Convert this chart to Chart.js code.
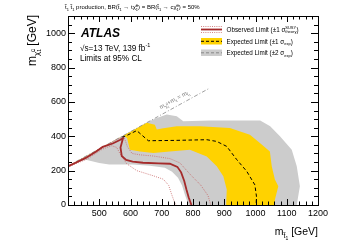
<!DOCTYPE html>
<html>
<head>
<meta charset="utf-8">
<script src="https://cdn.jsdelivr.net/npm/chart.js@4/dist/chart.umd.min.js"></script>
<style>
  html, body { margin: 0; padding: 0; background: #fff; }
  #wrap { width: 342px; height: 245px; position: relative; }
</style>
</head>
<body>
<div id="wrap"><canvas id="chart"></canvas></div>
<script>
// values are [m(stop), m(neutralino)] in GeV
const kinLine = [[400, 227], [850, 677]];

// +2 sigma expected (outer edge of grey band), closed along the axes
const grey2Up = [
    [400, 0], [400, 227], [662, 489], [684, 506], [716, 526], [748, 516], [769, 487],
    [854, 492], [918, 492], [1015, 492], [1047, 458], [1079, 399], [1116, 322],
    [1132, 225], [1142, 109], [1132, 0]
];
// +1 sigma expected (outer edge of yellow band)
const yellow1Up = [
    [400, 0], [400, 227], [652, 479], [678, 467], [684, 440], [700, 445], [748, 458],
    [822, 458], [918, 448], [982, 409], [1014, 361], [1046, 312], [1052, 225],
    [1062, 148], [1073, 109], [1062, 31], [1062, 0]
];
// -1 sigma expected (inner edge of yellow band)
const yellow1Down = [
    [400, 0], [400, 227], [576, 403], [589, 390], [598, 322], [630, 312], [673, 303],
    [726, 312], [790, 322], [844, 283], [876, 225], [897, 167], [908, 90], [906, 0]
];
// -2 sigma expected (inner edge of grey band)
const grey2Down = [
    [400, 0], [400, 223], [436, 254], [457, 264], [500, 245], [532, 235], [607, 235],
    [662, 229], [710, 217], [733, 194], [752, 159], [765, 113], [774, 60], [786, 0]
];

const expected = [
    [572, 395], [583, 400], [620, 433], [657, 374], [742, 376], [844, 380], [876, 370],
    [908, 341], [940, 264], [972, 196], [998, 117], [1003, 51], [1002, 0]
];
const observed = [
    [400, 225], [425, 246], [457, 274], [489, 310], [511, 338], [543, 358], [566, 378],
    [576, 388], [568, 335], [572, 285], [586, 262], [607, 253], [640, 246], [690, 242],
    [726, 240], [750, 222], [762, 190], [772, 140], [779, 90], [786, 45], [795, 0]
];
const obsTheoryUp = [
    [400, 228], [460, 282], [520, 345], [560, 385], [580, 392], [590, 340], [605, 300],
    [630, 292], [673, 285], [726, 270], [758, 245], [790, 180], [825, 115], [848, 55], [857, 0]
];
const obsTheoryDown = [
    [400, 222], [460, 266], [510, 325], [540, 345], [556, 335], [566, 300], [588, 240],
    [620, 200], [673, 170], [705, 150], [722, 115], [732, 60], [740, 20], [746, 0]
];

const FONT = '"Liberation Sans", Arial, Helvetica, sans-serif';
const GREY = '#cccccc';
const YELLOW = '#ffd200';
const RED = '#a52a2a';
const PINK = '#c86464';

Chart.defaults.font.family = FONT;
Chart.defaults.color = '#000';

function pts(arr) {
    return arr.map(([x, y]) => ({ x, y }));
}

// filled contour region
function band(arr, color, order) {
    return {
        data: pts(arr), showLine: true, fill: 'shape', backgroundColor: color,
        borderWidth: 0, pointRadius: 0, order
    };
}

// contour line
function curve(arr, color, width, dash, order) {
    return {
        data: pts(arr), showLine: true, fill: false, borderColor: color,
        borderWidth: width, borderDash: dash, pointRadius: 0, order
    };
}

// draw text made of pieces (sub/superscripts)
function partWidth(ctx, p) {
    ctx.font = (p.f || '') + ' ' + p.s + 'px ' + FONT;
    if (p.sup !== undefined) {
        return Math.max(ctx.measureText(p.sup).width, ctx.measureText(p.sub).width);
    }
    return ctx.measureText(p.t).width;
}

function richText(ctx, parts, x, y, align) {
    const ws = parts.map(p => partWidth(ctx, p));
    const total = ws.reduce((a, b) => a + b, 0);
    let cx = align === 'right' ? x - total : align === 'center' ? x - total / 2 : x;
    ctx.textAlign = 'left';
    ctx.textBaseline = 'alphabetic';
    parts.forEach((p, i) => {
        ctx.font = (p.f || '') + ' ' + p.s + 'px ' + FONT;
        if (p.sup !== undefined) {
            ctx.fillText(p.sup, cx, y + (p.upDy !== undefined ? p.upDy : -3));
            ctx.fillText(p.sub, cx, y + (p.dnDy !== undefined ? p.dnDy : 2));
        } else {
            ctx.fillText(p.t, cx, y + (p.dy || 0));
        }
        cx += ws[i];
    });
}

const decorPlugin = {
    id: 'decor',
    afterDraw(chart) {
        const { ctx, chartArea: a, scales: { x, y } } = chart;
        ctx.save();

        // ticks on all four sides, pointing inwards
        ctx.strokeStyle = '#000';
        ctx.lineWidth = 1;
        ctx.beginPath();
        for (let v = 400; v <= 1200; v += 20) {
            const px = Math.round(x.getPixelForValue(v)) + 0.5;
            const len = v % 100 === 0 ? 6 : 3.5;
            ctx.moveTo(px, a.bottom); ctx.lineTo(px, a.bottom - len);
            ctx.moveTo(px, a.top); ctx.lineTo(px, a.top + len);
        }
        for (let v = 0; v <= 1100; v += 50) {
            const py = Math.round(y.getPixelForValue(v)) + 0.5;
            const len = v % 200 === 0 ? 7 : 4;
            ctx.moveTo(a.left, py); ctx.lineTo(a.left + len, py);
            ctx.moveTo(a.right, py); ctx.lineTo(a.right - len, py);
        }
        ctx.stroke();
        ctx.strokeRect(Math.round(a.left) + 0.5, Math.round(a.top) + 0.5,
            Math.round(a.right - a.left), Math.round(a.bottom - a.top));

        ctx.fillStyle = '#000';
        // axis titles
        richText(ctx, [
            { t: 'm', s: 10.5 }, { t: 't\u0303', s: 7, dy: 3 }, { t: '1', s: 5, dy: 5 },
            { t: ' [GeV]', s: 10.5 }
        ], a.right, 235, 'right');

        ctx.save();
        ctx.translate(36, a.top - 1);
        ctx.rotate(-Math.PI / 2);
        richText(ctx, [
            { t: 'm', s: 12 }, { t: '\u03c7\u0303', s: 8, dy: 3 },
            { sup: '0', sub: '1', s: 5, upDy: -1, dnDy: 5 }, { t: ' [GeV]', s: 12 }
        ], 0, 0, 'right');
        ctx.restore();

        // process title above the frame
        richText(ctx, [
            { t: 't\u0303', s: 6 }, { t: '1', s: 4, dy: 1.5 }, { t: ' t\u0303', s: 6 }, { t: '1', s: 4, dy: 1.5 },
            { t: ' production, BR(t\u0303', s: 6 }, { t: '1', s: 4, dy: 1.5 },
            { t: ' \u2192 t\u03c7\u0303', s: 6 }, { sup: '0', sub: '1', s: 4, upDy: -2.5, dnDy: 1.5 },
            { t: ') = BR(t\u0303', s: 6 }, { t: '1', s: 4, dy: 1.5 },
            { t: ' \u2192 c\u03c7\u0303', s: 6 }, { sup: '0', sub: '1', s: 4, upDy: -2.5, dnDy: 1.5 },
            { t: ') = 50%', s: 6 }
        ], a.left - 3, 9, 'left');

        // ATLAS label block
        richText(ctx, [{ t: 'ATLAS', s: 12, f: 'italic bold' }], 81, 37, 'left');
        richText(ctx, [
            { t: '\u221as=13 TeV, 139 fb', s: 8.2 }, { t: '-1', s: 5.5, dy: -3.5 }
        ], 80, 50.5, 'left');
        richText(ctx, [{ t: 'Limits at 95% CL', s: 8.2 }], 80, 60.5, 'left');

        // legend
        const lx0 = 201, lx1 = 222, tx = 226.5;
        ctx.lineWidth = 0.8;
        ctx.strokeStyle = PINK;
        ctx.setLineDash([1, 1.2]);
        ctx.beginPath();
        ctx.moveTo(lx0, 26.5); ctx.lineTo(lx1, 26.5);
        ctx.moveTo(lx0, 32.5); ctx.lineTo(lx1, 32.5);
        ctx.stroke();
        ctx.setLineDash([]);
        ctx.strokeStyle = RED;
        ctx.lineWidth = 1.8;
        ctx.beginPath(); ctx.moveTo(lx0, 29.5); ctx.lineTo(lx1, 29.5); ctx.stroke();

        ctx.fillStyle = YELLOW;
        ctx.fillRect(lx0, 38, lx1 - lx0, 6.5);
        ctx.fillStyle = GREY;
        ctx.fillRect(lx0, 49.5, lx1 - lx0, 6.5);
        ctx.lineWidth = 1;
        ctx.setLineDash([3, 2]);
        ctx.strokeStyle = '#000';
        ctx.beginPath(); ctx.moveTo(lx0, 41.3); ctx.lineTo(lx1, 41.3); ctx.stroke();
        ctx.strokeStyle = '#888';
        ctx.beginPath(); ctx.moveTo(lx0, 52.8); ctx.lineTo(lx1, 52.8); ctx.stroke();
        ctx.setLineDash([]);

        ctx.fillStyle = '#000';
        richText(ctx, [
            { t: 'Observed Limit (\u00b11 \u03c3', s: 6.3 },
            { sup: 'SUSY', sub: 'theory', s: 4, upDy: -3.2, dnDy: 1.6 }, { t: ')', s: 6.3 }
        ], tx, 31.8, 'left');
        richText(ctx, [
            { t: 'Expected Limit (\u00b11 \u03c3', s: 6.3 }, { t: 'exp', s: 4, dy: 1.6 }, { t: ')', s: 6.3 }
        ], tx, 43.5, 'left');
        richText(ctx, [
            { t: 'Expected Limit (\u00b12 \u03c3', s: 6.3 }, { t: 'exp', s: 4, dy: 1.6 }, { t: ')', s: 6.3 }
        ], tx, 55, 'left');

        // label along the kinematic line
        const p0x = x.getPixelForValue(kinLine[0][0]), p0y = y.getPixelForValue(kinLine[0][1]);
        const p1x = x.getPixelForValue(kinLine[1][0]), p1y = y.getPixelForValue(kinLine[1][1]);
        const ang = Math.atan2(p1y - p0y, p1x - p0x);
        const cx = p0x + (p1x - p0x) * 0.78, cy = p0y + (p1y - p0y) * 0.78;
        ctx.save();
        ctx.translate(cx + 3 * Math.sin(ang), cy - 3 * Math.cos(ang));
        ctx.rotate(ang);
        ctx.fillStyle = '#777';
        richText(ctx, [
            { t: 'm', s: 6 }, { t: '\u03c7\u0303', s: 4.2, dy: 1.5 },
            { sup: '0', sub: '1', s: 3, upDy: -1, dnDy: 2.5 },
            { t: '+m', s: 6 }, { t: 't', s: 4.2, dy: 1.5 },
            { t: ' = m', s: 6 }, { t: 't\u0303', s: 4.2, dy: 1.5 }, { t: '1', s: 3, dy: 2.5 }
        ], 0, -2, 'center');
        ctx.restore();

        ctx.restore();
    }
};

new Chart(document.getElementById('chart'), {
    type: 'scatter',
    data: {
        datasets: [
            curve(observed, RED, 1.8, [], 1),
            curve(obsTheoryUp, PINK, 0.8, [1, 1.2], 2),
            curve(obsTheoryDown, PINK, 0.8, [1, 1.2], 3),
            curve(expected, '#000', 1, [3.5, 2.5], 4),
            curve(kinLine, '#888', 0.8, [4, 2, 1, 2], 5),
            band(grey2Down, '#ffffff', 6),
            band(yellow1Down, GREY, 7),
            band(yellow1Up, YELLOW, 8),
            band(grey2Up, GREY, 9)
        ]
    },
    options: {
        responsive: true,
        maintainAspectRatio: false,
        animation: false,
        events: [],
        layout: { padding: { top: 16, right: 24, left: 0, bottom: 0 } },
        plugins: { legend: { display: false }, tooltip: { enabled: false } },
        elements: { line: { tension: 0 } },
        scales: {
            x: {
                type: 'linear', min: 400, max: 1200,
                grid: { display: false, drawTicks: false },
                border: { display: false },
                ticks: {
                    stepSize: 100, autoSkip: false, maxRotation: 0, padding: 3,
                    font: { size: 9 }, color: '#000',
                    callback: v => (v === 400 ? '' : v)
                },
                afterFit: s => { s.height = 40; }
            },
            y: {
                type: 'linear', min: 0, max: 1100,
                grid: { display: false, drawTicks: false },
                border: { display: false },
                ticks: {
                    stepSize: 200, autoSkip: false, padding: 2,
                    font: { size: 9 }, color: '#000',
                    callback: v => (v % 200 === 0 ? v : '')
                },
                afterFit: s => { s.width = 68; }
            }
        }
    },
    plugins: [decorPlugin]
});
</script>
</body>
</html>
